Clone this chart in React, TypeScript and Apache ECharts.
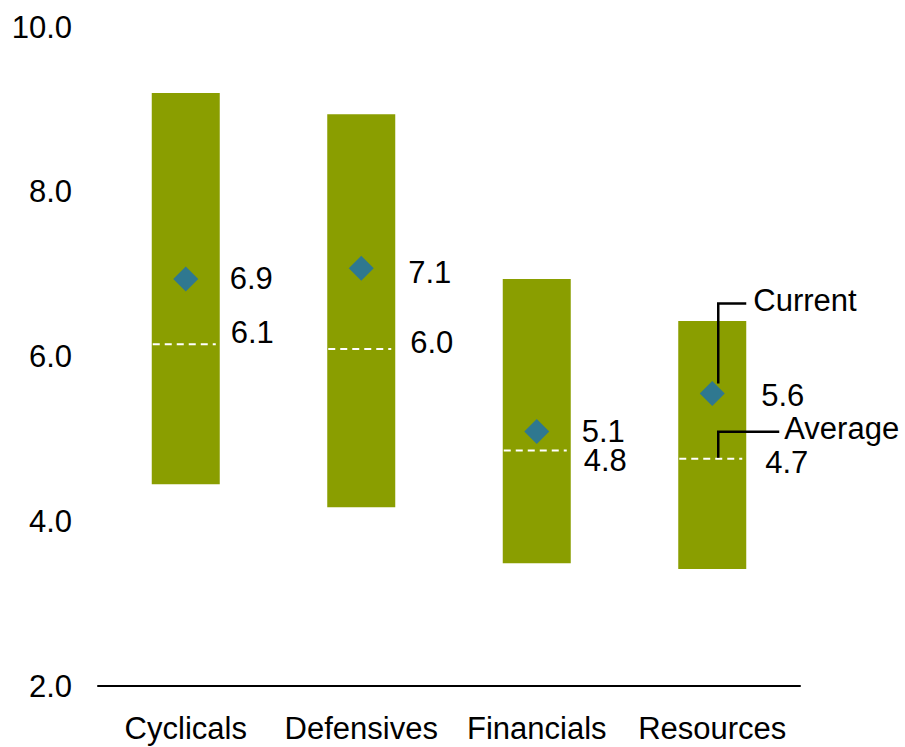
import React, { useEffect, useRef } from "react";
import * as echarts from "echarts";

const categories = ["Cyclicals", "Defensives", "Financials", "Resources"];
const rangeHigh = [9.2, 8.94, 6.94, 6.43];
const rangeLow = [4.45, 4.17, 3.49, 3.42];
const current = [6.94, 7.07, 5.09, 5.55];
const average = [6.15, 6.09, 4.86, 4.76];
const currentLabels = ["6.9", "7.1", "5.1", "5.6"];
const averageLabels = ["6.1", "6.0", "4.8", "4.7"];
const yTicks = [2, 4, 6, 8, 10];

// label placement (pixel offsets from bar centre / marker)
const curLabelDx = [44, 47, 45, 49];
const curLabelDy = [-1, 4, 0, 2];
const avgLabelDx = [45, 49, 47, 53];
const avgLabelDy = [-12, -7, 10, 4];

const FONT = '"Liberation Sans", Arial, sans-serif';
const FS = 31;
const BAR_COLOR = "#8a9e00";
const DIAMOND_COLOR = "#2f7890";

export default function App() {
  const ref = useRef<HTMLDivElement>(null);
  useEffect(() => {
    if (!ref.current) return;
    const chart = echarts.init(ref.current, undefined, { renderer: "svg" });
    const txt = (text: string, x: number, y: number) => ({
      type: "text",
      style: {
        text,
        x,
        y,
        fill: "#000",
        fontSize: FS,
        fontFamily: FONT,
        align: "left",
        verticalAlign: "middle",
      },
    });
    chart.setOption({
      animation: false,
      grid: { left: 98, right: 105, top: 27, bottom: 61 },
      xAxis: {
        type: "category",
        data: categories,
        axisLine: { show: true, lineStyle: { color: "#000", width: 2 } },
        axisTick: { show: false },
        axisLabel: { color: "#000", fontSize: FS, fontFamily: FONT, margin: 27, interval: 0 },
      },
      yAxis: {
        type: "value",
        min: yTicks[0],
        max: yTicks[yTicks.length - 1],
        interval: 2,
        axisLine: { show: false },
        axisTick: { show: false },
        splitLine: { show: false },
        axisLabel: {
          color: "#000",
          fontSize: FS,
          fontFamily: FONT,
          margin: 26,
          formatter: (v: number) => v.toFixed(1),
        },
      },
      series: [
        {
          type: "custom",
          data: categories.map((_, i) => [i, rangeLow[i], rangeHigh[i], average[i], current[i]]),
          encode: { x: 0, y: [1, 2] },
          renderItem: (params: any, api: any) => {
            const i = params.dataIndex;
            const lo = api.coord([api.value(0), api.value(1)]);
            const hi = api.coord([api.value(0), api.value(2)]);
            const av = api.coord([api.value(0), api.value(3)]);
            const cu = api.coord([api.value(0), api.value(4)]);
            const w = 68;
            const cx = lo[0];
            const children: any[] = [
              {
                type: "rect",
                shape: { x: cx - w / 2, y: hi[1], width: w, height: lo[1] - hi[1] },
                style: { fill: BAR_COLOR },
              },
              {
                type: "line",
                shape: { x1: cx - w / 2 + 1, y1: av[1], x2: cx + w / 2 - 4, y2: av[1] },
                style: { stroke: "#fff", lineWidth: 2, lineDash: [7, 5] },
              },
              txt(averageLabels[i], cx + avgLabelDx[i], av[1] + avgLabelDy[i]),
              txt(currentLabels[i], cx + curLabelDx[i], cu[1] + curLabelDy[i]),
            ];
            if (i === categories.length - 1) {
              children.push({
                type: "polyline",
                shape: {
                  points: [
                    [cx + 6, cu[1] - 10],
                    [cx + 6, cu[1] - 90],
                    [cx + 34, cu[1] - 90],
                  ],
                },
                style: { stroke: "#000", lineWidth: 2.5, fill: null },
              });
              children.push(txt("Current", cx + 41, cu[1] - 93));
              children.push({
                type: "polyline",
                shape: {
                  points: [
                    [cx + 6, av[1] - 1],
                    [cx + 6, av[1] - 27],
                    [cx + 67, av[1] - 27],
                  ],
                },
                style: { stroke: "#000", lineWidth: 2.5, fill: null },
              });
              children.push(txt("Average", cx + 72, av[1] - 30));
            }
            return { type: "group", children };
          },
          z: 2,
        },
        {
          type: "scatter",
          data: categories.map((_, i) => [i, current[i]]),
          symbol: "diamond",
          symbolSize: [25, 25],
          itemStyle: { color: DIAMOND_COLOR, opacity: 1 },
          emphasis: { disabled: true },
          z: 3,
        },
      ],
    });
    return () => chart.dispose();
  }, []);
  return (
    <div
      ref={ref}
      style={{ width: 905, height: 747, position: "absolute", left: 0, top: 0 }}
    />
  );
}
